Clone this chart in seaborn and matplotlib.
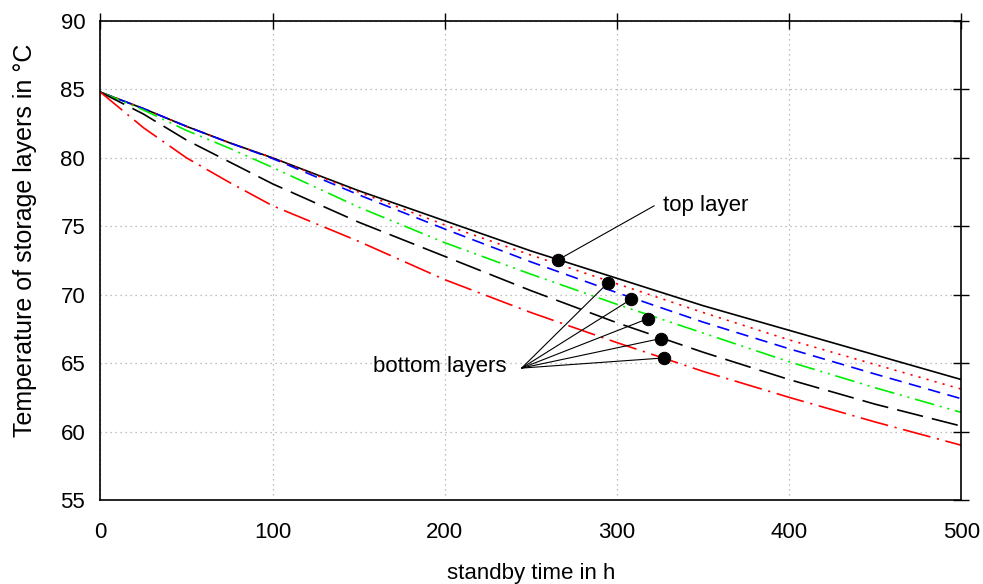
import pandas as pd
import matplotlib
matplotlib.use("Agg")
import matplotlib.pyplot as plt
import seaborn as sns

# standby time (h) and layer temperatures (°C)
time_h = [0, 25, 50, 75, 100, 150, 200, 250, 300, 350, 400, 450, 500]
top_layer = [84.8, 83.6, 82.3, 81.1, 80.0, 77.6, 75.4, 73.2, 71.2, 69.2, 67.4, 65.6, 63.8]
layer_red_dot = [84.8, 83.6, 82.3, 81.1, 80.0, 77.5, 75.1, 72.9, 70.8, 68.7, 66.7, 64.9, 63.1]
layer_blue = [84.8, 83.6, 82.3, 81.1, 79.95, 77.3, 74.8, 72.4, 70.15, 68.0, 66.05, 64.2, 62.4]
layer_green = [84.8, 83.5, 82.0, 80.7, 79.3, 76.4, 73.8, 71.5, 69.3, 67.2, 65.1, 63.2, 61.4]
layer_black_dash = [84.8, 83.2, 81.3, 79.7, 78.1, 75.3, 72.8, 70.3, 67.95, 65.8, 63.8, 62.0, 60.4]
bottom_layer = [84.8, 82.2, 80.0, 78.2, 76.5, 73.9, 71.1, 68.7, 66.5, 64.4, 62.5, 60.7, 59.0]

# marked points on each curve
marker_t = [265.9, 294.9, 308.1, 318.1, 325.5, 327.1]
marker_v = [72.56, 70.89, 69.66, 68.26, 66.8, 65.38]

series = [
    ("top", top_layer, "black", "-"),
    ("l2", layer_red_dot, "red", (0, (1.3, 3.7))),
    ("l3", layer_blue, "blue", (0, (7.5, 4.5))),
    ("l4", layer_green, "#00ee00", (0, (12, 3.5, 1.2, 3.5, 1.2, 3.5))),
    ("l5", layer_black_dash, "black", (0, (16, 5.5))),
    ("bottom", bottom_layer, "red", (0, (17, 4, 1.3, 4))),
]

sns.set_style("white")
plt.rcParams["font.family"] = ["Liberation Sans", "DejaVu Sans"]
plt.rcParams["text.color"] = "black"
plt.rcParams["axes.labelcolor"] = "black"

fig, ax = plt.subplots(figsize=(9.83, 5.84), dpi=100)
fig.subplots_adjust(left=0.1022, right=0.978, bottom=0.1438, top=0.964)

for name, vals, col, ls in series:
    df = pd.DataFrame({"t": time_h, "T": vals})
    sns.lineplot(data=df, x="t", y="T", color=col, linestyle=ls, linewidth=1.2, ax=ax)

sns.scatterplot(x=marker_t, y=marker_v, color="black", s=80, edgecolor="black", zorder=5, ax=ax)

# annotations
ax.plot([marker_t[0], 321.6], [marker_v[0], 76.5], color="black", linewidth=0.8)
ax.text(327, 76.55, "top layer", fontsize=16, va="center", ha="left")
for tx, vx in zip(marker_t[1:], marker_v[1:]):
    ax.plot([244.6, tx], [64.64, vx], color="black", linewidth=0.8)
ax.text(236, 64.75, "bottom layers", fontsize=16, va="center", ha="right")

ax.set_xlim(0, 500)
ax.set_ylim(55, 90)
ax.set_xticks(range(0, 501, 100))
ax.set_yticks(range(55, 91, 5))
ax.grid(True, linestyle=(0, (1, 3)), color="#aaaaaa", linewidth=0.9)
ax.set_axisbelow(True)
for sp in ax.spines.values():
    sp.set_color("black")
    sp.set_linewidth(1.2)
ax.tick_params(direction="inout", length=12, width=1.0, top=True, right=True,
               labelsize=16, pad=5, colors="black")
ax.tick_params(axis="x", pad=10)
ax.set_xlabel("standby time in h", fontsize=16, labelpad=14)
ax.set_ylabel("Temperature of storage layers in °C", fontsize=18)
ax.yaxis.set_label_coords(-0.074, 0.543)

fig.savefig("out.png", dpi=100)
